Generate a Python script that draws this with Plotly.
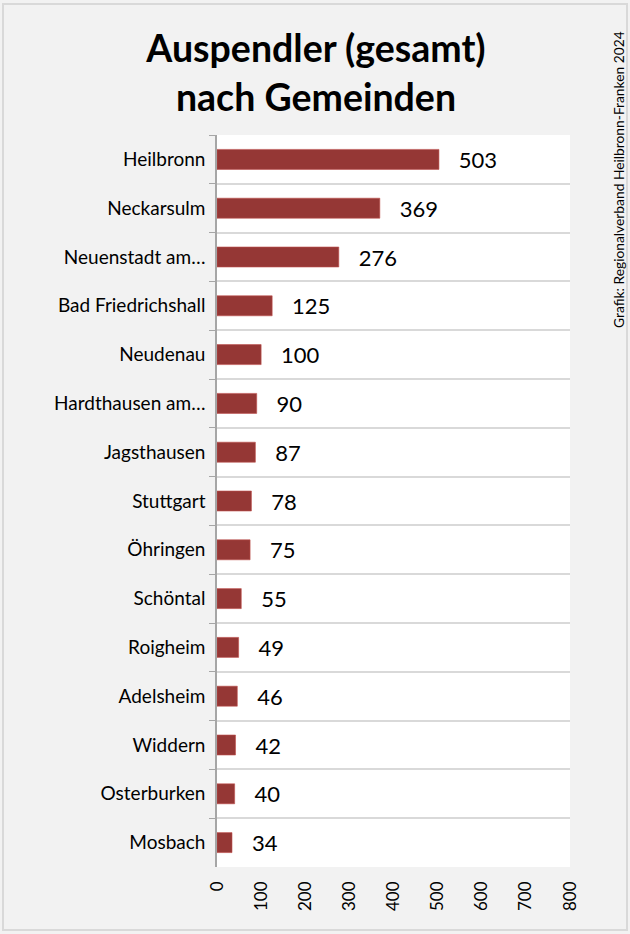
import plotly.graph_objects as go

gemeinden = ["Heilbronn", "Neckarsulm", "Neuenstadt am…", "Bad Friedrichshall", "Neudenau",
             "Hardthausen am…", "Jagsthausen", "Stuttgart", "Öhringen", "Schöntal",
             "Roigheim", "Adelsheim", "Widdern", "Osterburken", "Mosbach"]
auspendler = [503, 369, 276, 125, 100, 90, 87, 78, 75, 55, 49, 46, 42, 40, 34]
x_ticks = [0, 100, 200, 300, 400, 500, 600, 700, 800]

W, H = 630, 934
L, R, T, B = 217, 60, 135, 67
pw, ph = W - L - R, H - T - B
FONT = "Lato, Open Sans, sans-serif"

def px(x):
    return (x - L) / pw

def py(y):
    return (H - B - y) / ph

fig = go.Figure(go.Bar(
    x=auspendler, y=gemeinden, orientation="h",
    marker=dict(color="#953735", line=dict(width=0.6, color="#c0504d")),
    width=0.41,
    text=auspendler, texttemplate="   %{x}", textposition="outside",
    textfont=dict(size=22, color="#000000", family=FONT),
    constraintext="none",
    cliponaxis=False,
))

fig.update_layout(
    width=W, height=H,
    margin=dict(l=L, r=R, t=T, b=B),
    paper_bgcolor="#f2f2f2", plot_bgcolor="#ffffff",
    font=dict(family=FONT, color="#000000"),
    showlegend=False,
    title=dict(text="<b>Auspendler (gesamt)<br>nach Gemeinden</b>",
               x=316 / W, xanchor="center", xref="container",
               y=1 - 62 / H, yanchor="middle", yref="container",
               font=dict(size=37.5, family=FONT, color="#000000")),
    xaxis=dict(range=[0, 800], tickvals=x_ticks, ticktext=[str(v) for v in x_ticks],
               tickangle=-90, showgrid=False, zeroline=False, showline=False,
               ticks="", tickfont=dict(size=17, color="#000000"), ticklabelstandoff=10,
               fixedrange=True),
    yaxis=dict(type="category", categoryorder="array", categoryarray=gemeinden,
               autorange="reversed", tickson="boundaries", showgrid=True,
               gridcolor="#d9d9d9", gridwidth=1.5, showline=True, linecolor="#a6a6a6",
               linewidth=1.5, ticks="outside", ticklen=6, tickcolor="#a6a6a6",
               tickfont=dict(size=19, color="#000000"), ticklabelstandoff=6,
               fixedrange=True),
    shapes=[dict(type="rect", xref="paper", yref="paper",
                 x0=px(3), x1=px(627), y0=py(930), y1=py(4),
                 line=dict(color="#d9d9d9", width=2), fillcolor="rgba(0,0,0,0)", layer="below")],
    annotations=[dict(text="Grafik: Regionalverband Heilbronn-Franken 2024",
                      xref="paper", yref="paper", x=px(618), y=py(180),
                      xanchor="center", yanchor="middle", textangle=-90, showarrow=False,
                      font=dict(size=13.8, color="#000000", family=FONT))],
)

fig.write_html("out.html", config={"displayModeBar": False},
               post_script="document.body.style.margin='0';document.body.style.overflow='hidden';")
